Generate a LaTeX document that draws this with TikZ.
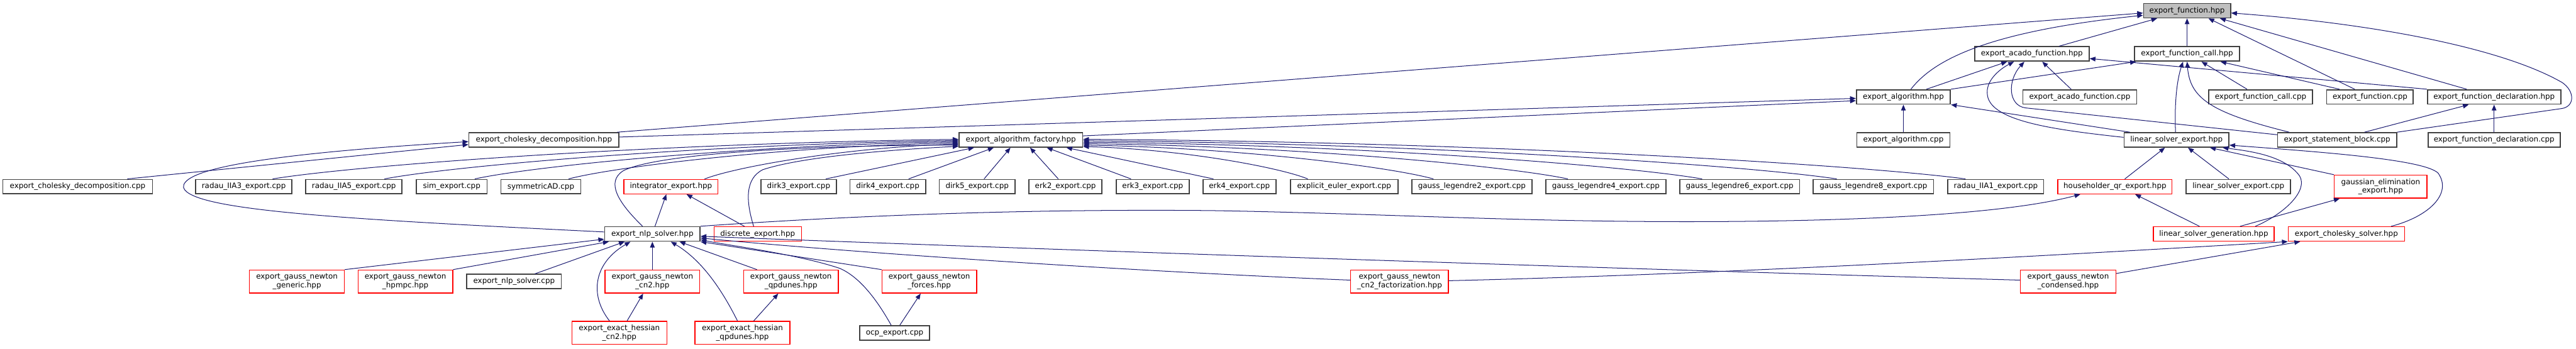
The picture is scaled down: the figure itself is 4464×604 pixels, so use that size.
\documentclass[tikz,border=0pt]{standalone}
\usepackage{fontspec}
\setmainfont{DejaVu Sans}
\usetikzlibrary{arrows.meta,calc}
\definecolor{edgec}{RGB}{25,25,112}
\definecolor{nbord}{RGB}{64,64,64}
\definecolor{rootf}{RGB}{191,191,191}
\newcommand\dxfont{\fontsize{13}{14.5}\selectfont}
\begin{document}
\begin{tikzpicture}[x=1pt,y=-1pt,
  nb/.style={draw=nbord, line width=1.8pt, fill=white, inner sep=0pt, minimum height=25pt, font=\dxfont, align=center, text=black},
  nr/.style={nb, draw=red, line width=1.5pt},
  two/.style={minimum height=40pt},
  e/.style={draw=edgec, line width=1.1pt, -{Triangle[length=10pt,width=8pt]}}]
\useasboundingbox (0,0) rectangle (4464,604);
% ---------- row 0
\node[nb, fill=rootf, minimum width=151pt] (fh) at (3790,18.5) {export\_function.hpp};
% ---------- row 1
\node[nb, minimum width=198.5pt] (acf) at (3521,93.5) {export\_acado\_function.hpp};
\node[nb, minimum width=181.6pt] (fcall) at (3790,93.5) {export\_function\_call.hpp};
% ---------- row 2
\node[nb, minimum width=163pt] (alg) at (3298.4,168) {export\_algorithm.hpp};
\node[nb, minimum width=197.3pt] (acfcpp) at (3604,168) {export\_acado\_function.cpp};
\node[nb, minimum width=180pt] (fcallcpp) at (3917.4,168) {export\_function\_call.cpp};
\node[nb, minimum width=150pt] (fcpp) at (4107,168) {export\_function.cpp};
\node[nb, minimum width=231pt] (fdecl) at (4322,168) {export\_function\_declaration.hpp};
% ---------- row 3
\node[nb, minimum width=260pt] (cholh) at (942.6,242.5) {export\_cholesky\_decomposition.hpp};
\node[nb, minimum width=214pt] (fac) at (1769,242.5) {export\_algorithm\_factory.hpp};
\node[nb, minimum width=161.5pt] (algcpp) at (3298.4,242.5) {export\_algorithm.cpp};
\node[nb, minimum width=181.6pt] (lse) at (3771.6,242.5) {linear\_solver\_export.hpp};
\node[nb, minimum width=206pt] (stmt) at (4050,242.5) {export\_statement\_block.cpp};
\node[nb, minimum width=229pt] (fdeclcpp) at (4322,242.5) {export\_function\_declaration.cpp};
% ---------- row 4
\node[nb, minimum width=259.4pt] (cholcpp) at (134.5,323.5) {export\_cholesky\_decomposition.cpp};
\node[nb, minimum width=167pt] (r3) at (422.4,323.5) {radau\_IIA3\_export.cpp};
\node[nb, minimum width=167pt] (r5) at (613.2,323.5) {radau\_IIA5\_export.cpp};
\node[nb, minimum width=123pt] (sim) at (782.7,323.5) {sim\_export.cpp};
\node[nb, minimum width=138.6pt] (sym) at (937.3,323.5) {symmetricAD.cpp};
\node[nr, minimum width=163pt] (integ) at (1162.7,323.5) {integrator\_export.hpp};
\node[nb, minimum width=130.4pt] (d3) at (1384,323.5) {dirk3\_export.cpp};
\node[nb, minimum width=131pt] (d4) at (1538.5,323.5) {dirk4\_export.cpp};
\node[nb, minimum width=131pt] (d5) at (1693.3,323.5) {dirk5\_export.cpp};
\node[nb, minimum width=126.5pt] (e2) at (1846.3,323.5) {erk2\_export.cpp};
\node[nb, minimum width=126.5pt] (e3) at (1997.5,323.5) {erk3\_export.cpp};
\node[nb, minimum width=126.5pt] (e4) at (2147.8,323.5) {erk4\_export.cpp};
\node[nb, minimum width=186.6pt] (ee) at (2329.3,323.5) {explicit\_euler\_export.cpp};
\node[nb, minimum width=208.4pt] (g2) at (2550.6,323.5) {gauss\_legendre2\_export.cpp};
\node[nb, minimum width=208.4pt] (g4) at (2782.8,323.5) {gauss\_legendre4\_export.cpp};
\node[nb, minimum width=208pt] (g6) at (3014.6,323.5) {gauss\_legendre6\_export.cpp};
\node[nb, minimum width=208.4pt] (g8) at (3246.5,323.5) {gauss\_legendre8\_export.cpp};
\node[nb, minimum width=166pt] (r1) at (3458.5,323.5) {radau\_IIA1\_export.cpp};
\node[nr, minimum width=198pt] (hh) at (3665,323.5) {householder\_qr\_export.hpp};
\node[nb, minimum width=181pt] (lsecpp) at (3879,323.5) {linear\_solver\_export.cpp};
\node[nr, two, minimum width=160.5pt] (gauss) at (4125.4,323.5) {gaussian\_elimination\\\_export.hpp};
% ---------- row 5
\node[nb, minimum width=165.3pt] (nlp) at (1130.5,405.5) {export\_nlp\_solver.hpp};
\node[nr, minimum width=151.3pt] (disc) at (1313,405.5) {discrete\_export.hpp};
\node[nr, minimum width=209.4pt] (lsg) at (3836.2,405.5) {linear\_solver\_generation.hpp};
\node[nr, minimum width=201.6pt] (chs) at (4066,405.5) {export\_cholesky\_solver.hpp};
% ---------- row 6
\node[nr, two, minimum width=164.3pt] (gng) at (514.5,488) {export\_gauss\_newton\\\_generic.hpp};
\node[nr, two, minimum width=164pt] (gnh) at (702.5,488) {export\_gauss\_newton\\\_hpmpc.hpp};
\node[nb, minimum width=164pt] (nlpcpp) at (890.8,488) {export\_nlp\_solver.cpp};
\node[nr, two, minimum width=164.3pt] (gncn2) at (1130.5,488) {export\_gauss\_newton\\\_cn2.hpp};
\node[nr, two, minimum width=164pt] (gnq) at (1370.7,488) {export\_gauss\_newton\\\_qpdunes.hpp};
\node[nr, two, minimum width=164pt] (gnf) at (1610.4,488) {export\_gauss\_newton\\\_forces.hpp};
\node[nr, two, minimum width=169.2pt] (gncf) at (2425.3,488) {export\_gauss\_newton\\\_cn2\_factorization.hpp};
\node[nr, two, minimum width=165pt] (gnc) at (3583.9,488) {export\_gauss\_newton\\\_condensed.hpp};
% ---------- row 7
\node[nr, two, minimum width=164.3pt] (ehcn2) at (1073.3,577) {export\_exact\_hessian\\\_cn2.hpp};
\node[nr, two, minimum width=164.3pt] (ehq) at (1286.5,577) {export\_exact\_hessian\\\_qpdunes.hpp};
\node[nb, minimum width=121.2pt] (ocp) at (1550.3,577) {ocp\_export.cpp};

% ================= edges
% into export_function.hpp
\draw[e] ($(cholh.north east)+(-4,0)$) -- ($(fh.west)+(0,4)$);
\draw[e] ($(alg.north)+(13,0)$) .. controls (3350,105) and (3440,55) .. ($(fh.west)+(0,8)$);
\draw[e] ($(acf.north)+(47,0)$) -- ($(fh.south)+(-52,0)$);
\draw[e] (fcall.north) -- (fh.south);
\draw[e] ($(fcpp.north)+(-26.5,0)$) -- ($(fh.south)+(37,0)$);
\draw[e] ($(fdecl.north)+(-47.5,0)$) -- ($(fh.south)+(57,0)$);
\draw[e] (stmt.north east) -- (4440,188) .. controls (4462,184) and (4462,158) .. (4440,143) .. controls (4330,80) and (4100,40) .. ($(fh.east)+(0,4)$);
% into export_acado_function.hpp
\draw[e] ($(alg.north)+(40,0)$) -- ($(acf.south)+(-43,0)$);
\draw[e] ($(lse.west)+(0,-4.5)$) .. controls (3560,225) and (3450,210) .. (3444,165) .. controls (3440,140) and (3465,120) .. ($(acf.south)+(-31,0)$);
\draw[e] ($(stmt.west)+(0,-9)$) -- (3510,187) .. controls (3480,183) and (3478,140) .. ($(acf.south)+(-13,0)$);
\draw[e] ($(acfcpp.north)+(-15,0)$) -- ($(acf.south)+(18,0)$);
\draw[e] (fdecl.north west) -- ($(acf.east)+(0,8)$);
% into export_function_call.hpp
\draw[e] (alg.north east) -- ($(fcall.south west)+(3,0)$);
\draw[e] ($(lse.north)+(-1.6,0)$) .. controls (3768,180) and (3772,140) .. ($(fcall.south)+(-7,0)$);
\draw[e] ($(stmt.north)+(-83,0)$) .. controls (3830,195) and (3795,170) .. (fcall.south);
\draw[e] ($(fcallcpp.north)+(-23.5,0)$) -- ($(fcall.south)+(25,0)$);
\draw[e] ($(fcpp.north)+(-53,0)$) -- ($(fcall.south)+(58,0)$);
% into export_algorithm.hpp
\draw[e] (algcpp.north) -- (alg.south);
\draw[e] ($(lse.north west)+(11,0)$) -- (alg.south east);
\draw[e] ($(cholh.east)+(0,-5)$) -- ($(alg.west)+(0,2.5)$);
\draw[e] ($(fac.east)+(0,-7)$) -- ($(alg.west)+(0,6.5)$);
% into export_function_declaration.hpp
\draw[e] ($(stmt.north)+(47.5,0)$) -- ($(fdecl.south)+(-44,0)$);
\draw[e] (fdeclcpp.north) -- (fdecl.south);
% into export_cholesky_decomposition.hpp
\draw[e] ($(cholcpp.north)+(86,0)$) -- ($(cholh.west)+(0,8)$);
\draw[e] ($(nlp.west)+(0,-3.5)$) .. controls (600,380) and (330,365) .. (318,325) .. controls (315,300) and (400,270) .. ($(cholh.west)+(0,3)$);
% into export_algorithm_factory.hpp : left side
\draw[e] ($(r3.north)+(50,0)$) .. controls (615.2,286.7) and (1126.7,248.5) .. ($(fac.west)+(0,-1)$);
\draw[e] ($(r5.north)+(53,0)$) .. controls (785.5,287.4) and (1213.8,250.3) .. ($(fac.west)+(0,1)$);
\draw[e] ($(sim.north)+(40,0)$) .. controls (923.4,288.1) and (1284.3,252) .. ($(fac.west)+(0,3)$);
\draw[e] ($(sym.north)+(48,0)$) .. controls (1066.2,288.8) and (1357.4,253.9) .. ($(fac.west)+(0,5)$);
\draw[e] ($(integ.north east)+(-24,0)$) .. controls (1273,289.5) and (1463,255.7) .. ($(fac.west)+(0,7)$);
\draw[e] ($(nlp.north)+(-17,0)$) .. controls (1070,350) and (1050,315) .. (1080,296) .. controls (1130,270) and (1350,252) .. ($(fac.west)+(0,9)$);
\draw[e] ($(disc.north)+(-7,0)$) .. controls (1293,350) and (1290,310) .. (1322,294) .. controls (1380,275) and (1500,262) .. ($(fac.west)+(0,11)$);
% bottom
\draw[e] ($(d3.north)+(47,0)$) -- ($(fac.south)+(-81,0)$);
\draw[e] ($(d4.north)+(36,0)$) -- ($(fac.south)+(-47,0)$);
\draw[e] ($(d5.north)+(12,0)$) -- ($(fac.south)+(-18,0)$);
\draw[e] ($(e2.north)+(-12.4,0)$) -- ($(fac.south)+(16,0)$);
\draw[e] ($(e3.north)+(-37.6,0)$) -- ($(fac.south)+(45,0)$);
\draw[e] ($(e4.north)+(-45,0)$) -- ($(fac.south)+(79,0)$);
% right side
\draw[e] ($(ee.north)+(-63,0)$) .. controls (2219,290.7) and (2051.5,258.8) .. ($(fac.east)+(0,11.5)$);
\draw[e] ($(g2.north)+(-66.6,0)$) .. controls (2411,289.7) and (2149.6,256.1) .. ($(fac.east)+(0,9)$);
\draw[e] ($(g4.north)+(-65.8,0)$) .. controls (2616,288.6) and (2254.5,253.4) .. ($(fac.east)+(0,6.5)$);
\draw[e] ($(g6.north)+(-65,0)$) .. controls (2820.7,287.6) and (2359,250.7) .. ($(fac.east)+(0,4)$);
\draw[e] ($(g8.north)+(-63.5,0)$) .. controls (3026,286.5) and (2464,248) .. ($(fac.east)+(0,1.5)$);
\draw[e] ($(r1.north)+(-52.5,0)$) .. controls (3222,285.5) and (2564.5,245.3) .. ($(fac.east)+(0,-1)$);
% into integrator_export.hpp
\draw[e] ($(nlp.north)+(4.5,0)$) -- ($(integ.south)+(-8,0)$);
\draw[e] ($(disc.north)+(-23,0)$) -- ($(integ.south)+(27,0)$);
% into householder_qr_export.hpp
\draw[e] (nlp.north east) .. controls (1500,372) and (1800,362) .. (2100,365) .. controls (2400,370) and (2650,386) .. (2980,384) .. controls (3300,382) and (3500,365) .. ($(hh.south)+(-60,0)$);
\draw[e] ($(lsg.north)+(-24.7,0)$) -- ($(hh.south)+(35,0)$);
% into linear_solver_export.hpp
\draw[e] ($(hh.north)+(17,0)$) -- ($(lse.south)+(-20,0)$);
\draw[e] ($(lsecpp.north)+(-16.6,0)$) -- ($(lse.south)+(20,0)$);
\draw[e] (gauss.north west) -- ($(lse.south)+(58,0)$);
\draw[e] ($(lsg.north)+(72,0)$) .. controls (3960,370) and (4000,330) .. (3985,305) .. controls (3960,270) and (3900,262) .. ($(lse.south)+(80,0)$);
\draw[e] ($(chs.north)+(77.5,0)$) .. controls (4210,375) and (4250,335) .. (4225,300) .. controls (4200,275) and (4000,262) .. ($(lse.east)+(0,9)$);
% into gaussian_elimination_export.hpp
\draw[e] ($(lsg.north)+(45.6,0)$) -- ($(gauss.south west)+(10,0)$);
% into export_cholesky_solver.hpp
\draw[e] ($(gncf.east)+(0,-1.5)$) .. controls (3000,475) and (3600,440) .. (chs.south west);
\draw[e] ($(gnc.east)+(0,-14)$) -- ($(chs.south)+(-80,0)$);
% into export_nlp_solver.hpp
\draw[e] (gng.north east) -- ($(nlp.west)+(0,9)$);
\draw[e] (gnh.north east) -- ($(nlp.south west)+(8,0)$);
\draw[e] ($(nlpcpp.north)+(36,0)$) -- ($(nlp.south)+(-48,0)$);
\draw[e] ($(ehcn2.north)+(-17,0)$) .. controls (1020,510) and (1030,455) .. ($(nlp.south)+(-38,0)$);
\draw[e] (gncn2.north) -- (nlp.south);
\draw[e] ($(ehq.north)+(-8.5,0)$) .. controls (1250,500) and (1215,450) .. ($(nlp.south)+(32,0)$);
\draw[e] ($(gnq.north)+(-59,0)$) -- ($(nlp.south)+(47,0)$);
\draw[e] ($(gnc.west)+(0,-2.5)$) .. controls (2800,466) and (1800,432) .. ($(nlp.east)+(0,4)$);
\draw[e] ($(gncf.west)+(0,-2.5)$) .. controls (2000,472) and (1500,440) .. ($(nlp.east)+(0,7)$);
\draw[e] (gnf.north west) -- (nlp.south east);
\draw[e] ($(ocp.north)+(-6,0)$) .. controls (1520,520) and (1490,480) .. (1455,465) .. controls (1380,440) and (1260,425) .. ($(nlp.east)+(0,10)$);
% lower rows
\draw[e] ($(ehcn2.north)+(13.3,0)$) -- ($(gncn2.south)+(-16,0)$);
\draw[e] ($(ehq.north)+(19.5,0)$) -- ($(gnq.south)+(-22,0)$);
\draw[e] ($(ocp.north)+(9,0)$) -- ($(gnf.south)+(-15,0)$);
\end{tikzpicture}
\end{document}
